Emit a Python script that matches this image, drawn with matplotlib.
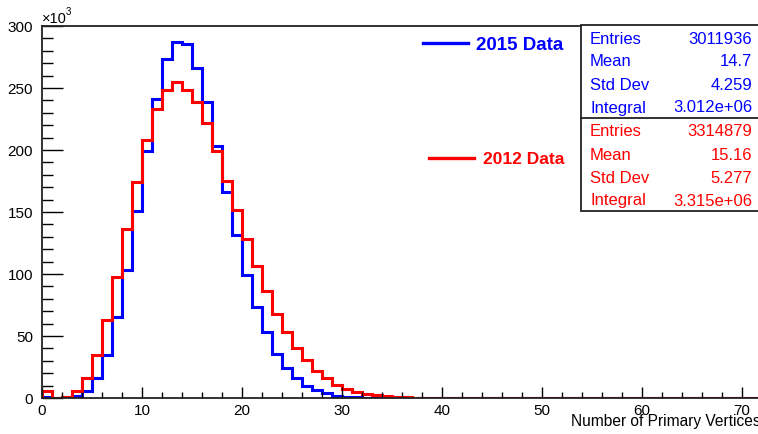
import numpy as np
import matplotlib
matplotlib.use("Agg")
import matplotlib.pyplot as plt
from matplotlib.patches import Rectangle
from matplotlib.lines import Line2D
from matplotlib.ticker import MultipleLocator

plt.rcParams['font.family'] = ['Liberation Sans', 'DejaVu Sans']

# bin contents (x10^3), bins of width 1 starting at 0
counts_2015 = [0.8, 0.3, 0.5, 1.9, 5.9, 15.9, 34.4, 65.0, 103.2, 150.5,
               199.4, 241.0, 273.4, 286.8, 285.2, 265.9, 239.0, 203.0, 166.4, 131.5,
               99.2, 73.4, 53.2, 35.7, 24.1, 16.1, 10.0, 6.5, 3.8, 2.0,
               1.2, 0.7, 0.4, 0.2, 0.1]
counts_2012 = [5.4, 0.3, 0.8, 5.4, 15.9, 35.0, 62.6, 97.6, 136.3, 174.4,
               208.3, 233.0, 248.4, 254.6, 248.6, 239.0, 221.5, 199.4, 175.3, 152.0,
               128.2, 106.7, 86.0, 68.0, 53.3, 40.0, 30.6, 22.0, 15.9, 10.5,
               7.3, 5.0, 3.3, 2.2, 1.5, 1.0, 0.6, 0.4, 0.2, 0.1]
n_bins = 80

stats_2015 = [("Entries", "3011936"), ("Mean", "14.7"),
              ("Std Dev", "4.259"), ("Integral", "3.012e+06")]
stats_2012 = [("Entries", "3314879"), ("Mean", "15.16"),
              ("Std Dev", "5.277"), ("Integral", "3.315e+06")]

W, H = 758, 435


def fx(x):
    return x / W


def fy(y):
    return 1 - y / H


edges = np.arange(n_bins + 1)
h15 = np.zeros(n_bins)
h15[:len(counts_2015)] = counts_2015
h12 = np.zeros(n_bins)
h12[:len(counts_2012)] = counts_2012

fig = plt.figure(figsize=(W / 100, H / 100), dpi=100)
ax = fig.add_axes([fx(42), fy(399), 800 / W, (399 - 27) / H])

ax.stairs(h15, edges, color='#0000ff', lw=2.2)
ax.stairs(h12, edges, color='#ff0000', lw=2.2)

ax.set_xlim(0, 80)
ax.set_ylim(0, 300)
ax.spines['right'].set_visible(False)
for s in ['left', 'bottom', 'top']:
    ax.spines[s].set_linewidth(1.3)
    ax.spines[s].set_color('#222222')

ax.xaxis.set_major_locator(MultipleLocator(10))
ax.xaxis.set_minor_locator(MultipleLocator(2))
ax.yaxis.set_major_locator(MultipleLocator(50))
ax.yaxis.set_minor_locator(MultipleLocator(10))
ax.tick_params(axis='x', which='major', direction='in', length=7.7, width=1,
               labelsize=11, pad=3.5, top=False)
ax.tick_params(axis='x', which='minor', direction='in', length=4, width=1, top=False)
ax.tick_params(axis='y', which='major', direction='in', length=15, width=1,
               labelsize=11, pad=6.5, right=False)
ax.tick_params(axis='y', which='minor', direction='in', length=7.7, width=1, right=False)

fig.text(fx(571), fy(426), "Number of Primary Vertices", fontsize=11.2,
         ha='left', va='baseline')
fig.text(fx(42), fy(19), "\u00d710", fontsize=10.5, ha='left', va='center')
fig.text(fx(65.5), fy(12), "3", fontsize=7, ha='left', va='center')

# legend
fig.add_artist(Line2D([fx(423), fx(468)], [fy(44), fy(44)], color='#0000ff', lw=2.4))
fig.text(fx(476), fy(45), "2015 Data", color='#0000ff', fontsize=13.5,
         fontweight='bold', ha='left', va='center')
fig.add_artist(Line2D([fx(429), fx(474)], [fy(159), fy(159)], color='#ff0000', lw=2.4))
fig.text(fx(483), fy(160), "2012 Data", color='#ff0000', fontsize=12.5,
         fontweight='bold', ha='left', va='center')

# stats box
fig.add_artist(Rectangle((fx(581), fy(212)), fx(200), (212 - 26) / H,
                         transform=fig.transFigure, facecolor='white',
                         edgecolor='#222222', lw=1.3))
fig.add_artist(Line2D([fx(581), fx(760)], [fy(119), fy(119)], color='#222222', lw=1.3))
row_y = [39, 62, 86, 108]
for (name, val), y in zip(stats_2015, row_y):
    fig.text(fx(590), fy(y), name, color='#0000ff', fontsize=12, ha='left', va='center')
    fig.text(fx(752), fy(y), val, color='#0000ff', fontsize=12, ha='right', va='center')
for (name, val), y in zip(stats_2012, row_y):
    fig.text(fx(590), fy(y + 93), name, color='#ff0000', fontsize=12, ha='left', va='center')
    fig.text(fx(752), fy(y + 93), val, color='#ff0000', fontsize=12, ha='right', va='center')

fig.savefig("out.png", dpi=100)
